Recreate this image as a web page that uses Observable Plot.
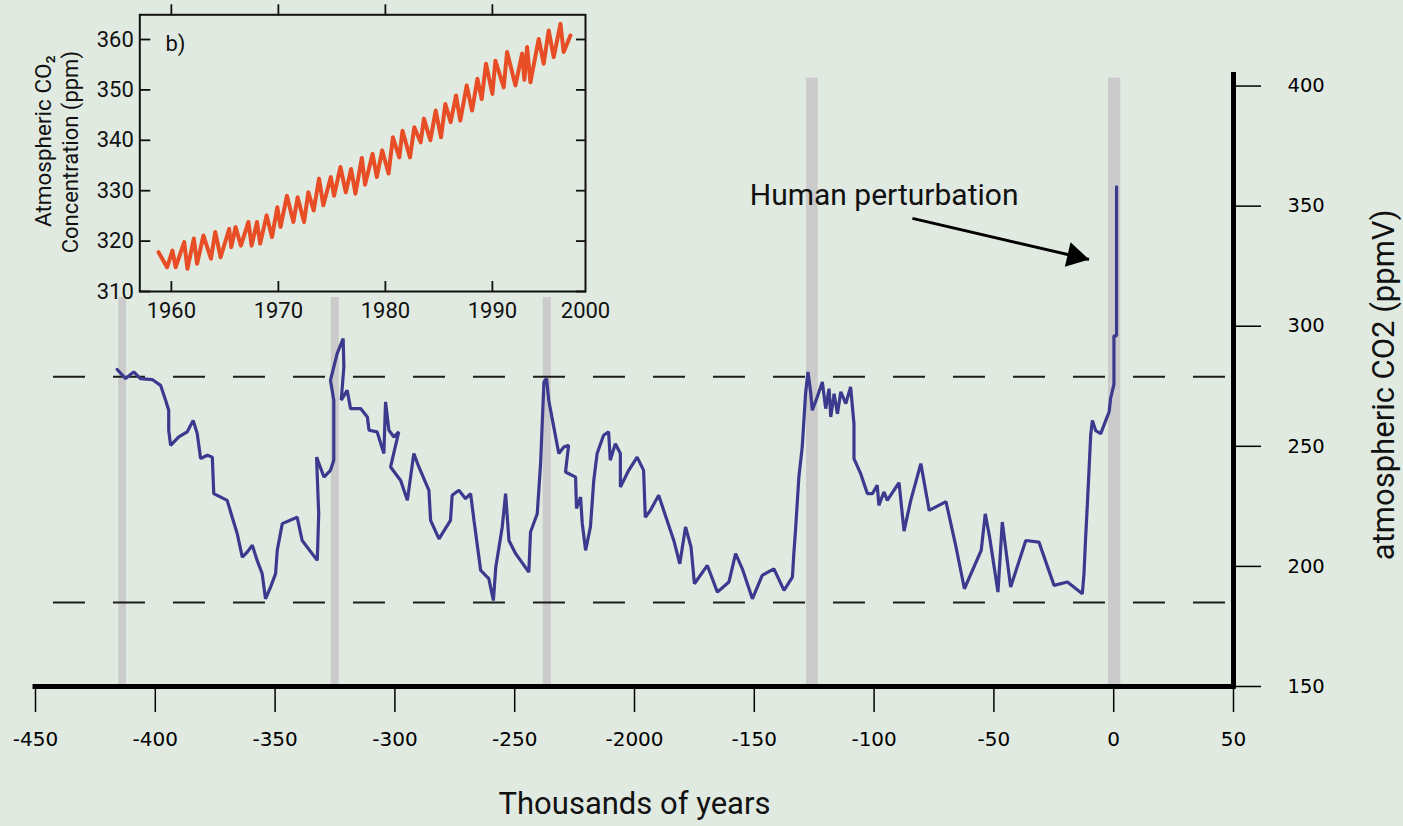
<!DOCTYPE html>
<html>
<head>
<meta charset="utf-8">
<script src="https://cdn.jsdelivr.net/npm/d3@7"></script>
<script src="https://cdn.jsdelivr.net/npm/@observablehq/plot@0.6"></script>
<style>
  html, body { margin: 0; padding: 0; background: #e0eae1; overflow: hidden; }
  #wrap { position: relative; width: 1403px; height: 826px; }
  #main { position: absolute; left: 0; top: 0; }
  #insetCover { position: absolute; left: 0; top: 0; width: 600px; height: 297px; background: #e0eae1; }
  #inset { position: absolute; left: 0; top: 0; }
  svg { overflow: visible; }
</style>
</head>
<body>
<div id="wrap">
  <div id="main"></div>
  <div id="insetCover"></div>
  <div id="inset"></div>
</div>
<script>
// ---------------- Main chart data (Vostok record, thousands of years vs ppmV) ----------------
const vostokAge = [
  -415.9, -412.4, -409.0, -406.2, -401.3, -397.8, -395.7, -394.4, -394.4, -393.6,
  -390.2, -386.7, -384.2, -382.5, -381.1, -378.3, -376.2, -375.6, -370.0, -367.9,
  -365.8, -363.7, -361.6, -359.5, -357.5, -355.4, -354.0, -351.9, -349.8, -349.1,
  -347.0, -340.8, -338.7, -332.4, -331.8, -332.7, -329.6, -326.9, -325.5, -325.5,
  -326.9, -324.1, -321.6, -321.3, -322.4, -319.9, -318.5, -314.3, -311.5, -310.8,
  -307.4, -304.6, -303.9, -302.5, -300.4, -298.4, -301.8, -297.6, -294.8, -292.1,
  -290.0, -285.8, -285.1, -281.6, -276.8, -276.1, -273.3, -270.5, -268.4, -267.0,
  -264.2, -260.8, -258.9, -257.9, -255.2, -253.8, -252.4, -249.6, -244.1, -243.4,
  -240.6, -239.2, -237.8, -236.7, -235.8, -233.7, -231.6, -229.5, -227.5, -228.8,
  -224.6, -224.2, -222.5, -221.8, -220.4, -218.4, -217.0, -215.6, -212.9, -210.8,
  -210.1, -208.0, -205.9, -205.9, -202.4, -198.9, -196.2, -195.5, -193.4, -189.9,
  -187.8, -183.6, -181.1, -178.7, -176.4, -175.0, -169.6, -165.4, -160.6, -157.8,
  -155.0, -150.8, -146.7, -141.8, -137.6, -134.1, -133.5, -132.8, -131.4, -130.0,
  -129.3, -128.6, -127.6, -126.5, -125.8, -123.7, -121.6, -120.2, -118.8, -118.1,
  -116.7, -115.3, -113.9, -111.8, -109.8, -108.4, -108.4, -105.6, -102.8, -100.7,
  -98.7, -98.0, -95.9, -94.5, -89.6, -87.5, -84.7, -80.5, -77.0, -70.0,
  -65.8, -62.3, -55.3, -53.6, -51.8, -48.3, -46.5, -43.0, -36.7, -31.2,
  -24.9, -19.3, -13.1, -12.4, -11.7, -11.0, -10.3, -9.6, -8.9, -7.5,
  -5.4, -3.3, -1.9, -1.3, 0.1, 0.1, 1.2, 1.2
];
const vostokCO2 = [
  282, 278.2, 281, 278.2, 277.8, 275.4, 269.2, 265, 256.7, 250.4,
  253.9, 256, 260.8, 255.3, 244.9, 246.3, 245.5, 230.3, 227.5, 220.5,
  213.6, 203.9, 206, 208.8, 202.5, 197, 186.5, 191.4, 197, 206.7,
  217.8, 220.5, 210.8, 202.5, 221.9, 245.5, 237.2, 240, 244.2, 269.2,
  277.5, 288.6, 294.9, 283.1, 269.2, 273.3, 265.7, 265.7, 262.2, 256.7,
  256, 247, 268.5, 256.7, 253.9, 256, 241.4, 235.8, 227.5, 247,
  241.4, 231.7, 219.2, 211.5, 219.2, 229.6, 231.7, 228.2, 230.3, 219.2,
  198.3, 194.9, 185.8, 199.7, 216.4, 230.3, 210.8, 205.3, 197.6, 214.3,
  221.9, 242.8, 276.8, 278.2, 269.2, 258.1, 247, 249.7, 250.4, 239.3,
  237.2, 224.1, 228.9, 217.8, 206.7, 216.4, 235.8, 247, 254.6, 256,
  244.2, 251.1, 247, 233.1, 240, 245.5, 240, 220.5, 223.3, 229.6,
  223.3, 210.8, 201.1, 216.4, 208, 192.8, 200.4, 189.3, 193.5, 205.3,
  199, 186.5, 196.3, 199, 190, 195.5, 205.3, 215, 237.2, 249.7,
  260.8, 271.9, 281, 272.7, 265, 270.6, 276.8, 265.7, 274, 262.2,
  271.9, 263.6, 272.7, 267.8, 274.7, 259.4, 244.9, 238.6, 230.3, 230.3,
  233.8, 225.4, 231, 227.5, 234.9, 214.7, 227.5, 242.8, 223.3, 227,
  208, 190.7, 206.7, 221.9, 212.2, 189.3, 218.5, 191.4, 210.8, 210.1,
  192.1, 193.5, 188.6, 196.9, 212.2, 225.8, 240, 254.7, 260.8, 256.5,
  255.3, 260.8, 264.4, 270, 275.8, 296, 296, 358
];

const xTicks = [-450, -400, -350, -300, -250, -200, -150, -100, -50, 0, 50];
const xTickLabels = ["-450", "-400", "-350", "-300", "-250", "-2000", "-150", "-100", "-50", "0", "50"];
const yTicks = [150, 200, 250, 300, 350, 400];
const xDomain = [-450, 50];
const yDomain = [150, 404.6];

const referenceLevels = [279, 185];
const referenceSpan = [-442.5, 47.5];

const bandStart = [-415.2, -326.6, -238.1, -128.2, -2.2];
const bandEnd = [-412.0, -323.2, -234.7, -123.3, 3.0];
const bandTop = 403.3;

const annotationText = ["Human perturbation"];
const annotationX = [-151.9];
const annotationY = [354.4];
const arrowTail = [-84.0, 344.9];
const arrowHead = [-10.3, 327.8];

const xTitle = "Thousands of years";
const yTitle = "atmospheric CO2 (ppmV)";

// ---------------- Inset data (Mauna Loa record) ----------------
const maunaYear = [
  1958.8, 1959.6, 1960.1, 1960.4, 1961.2, 1961.5, 1962.1, 1962.4, 1963.0, 1963.7,
  1964.1, 1964.6, 1965.4, 1965.6, 1966.0, 1966.5, 1967.2, 1967.5, 1968.0, 1968.3,
  1968.9, 1969.4, 1969.9, 1970.2, 1970.8, 1971.4, 1971.8, 1972.4, 1972.8, 1973.3,
  1973.8, 1974.2, 1974.9, 1975.2, 1975.8, 1976.3, 1976.8, 1977.2, 1977.8, 1978.1,
  1978.8, 1979.2, 1979.7, 1980.3, 1980.7, 1981.3, 1981.6, 1982.3, 1982.7, 1983.3,
  1983.6, 1984.2, 1984.7, 1985.2, 1985.6, 1986.1, 1986.6, 1987.0, 1987.6, 1988.1,
  1988.6, 1989.0, 1989.4, 1990.0, 1990.28, 1991.06, 1991.37, 1992.15, 1992.78, 1992.99,
  1993.24, 1993.55, 1994.33, 1994.79, 1995.26, 1995.73, 1996.36, 1996.66, 1997.29
];
const maunaPPM = [
  317.8, 314.8, 318.1, 314.8, 319.8, 314.5, 320.5, 315.5, 321.1, 316.5,
  321.8, 316.8, 322.4, 318.8, 322.8, 319.1, 323.8, 319.1, 323.8, 319.5,
  325.1, 320.8, 326.7, 322.8, 329.0, 323.8, 328.7, 323.8, 329.7, 326.1,
  332.4, 327.1, 332.7, 329.0, 334.7, 329.7, 334.3, 329.4, 336.5, 331.2,
  337.3, 332.7, 338.0, 333.4, 340.6, 336.6, 341.9, 336.6, 342.6, 339.6,
  344.3, 340.0, 345.9, 340.6, 347.2, 343.6, 348.9, 343.9, 350.9, 345.9,
  352.2, 348.2, 355.2, 349.2, 355.8, 350.5, 357.5, 350.9, 357.2, 352.0,
  358.5, 351.5, 360.1, 355.2, 361.8, 356.5, 363.1, 357.5, 360.8
];
const insetXTicks = [1960, 1970, 1980, 1990];
const insetXTickLabels = ["1960", "1970", "1980", "1990"];
const insetEndLabel = ["2000"];
const insetYTicks = [310, 320, 330, 340, 350, 360];
const insetXDomain = [1957.05, 1998.7];
const insetYDomain = [310, 364.9];
const insetTag = ["b)"];
const insetTagPos = [1959.45, 359.1];
const insetYTitle = ["Atmospheric CO\u2082", "Concentration (ppm)"];

// ---------------- Build ----------------
const TEXT_FONT = "Roboto, 'Open Sans', sans-serif";
const TICK_FONT = "'DejaVu Sans', sans-serif";

const vostok = vostokAge.map((a, i) => ({age: a, co2: vostokCO2[i]}));
const bands = bandStart.map((s, i) => ({x1: s, x2: bandEnd[i], y1: yDomain[0], y2: bandTop}));
const annotations = annotationText.map((t, i) => ({text: t, x: annotationX[i], y: annotationY[i]}));
const arrows = [{x1: arrowTail[0], y1: arrowTail[1], x2: arrowHead[0], y2: arrowHead[1]}];
const xLabel = new Map(xTicks.map((t, i) => [t, xTickLabels[i]]));

const main = Plot.plot({
  width: 1403,
  height: 826,
  marginLeft: 35,
  marginRight: 170,
  marginTop: 74.5,
  marginBottom: 140,
  x: {domain: xDomain},
  y: {domain: yDomain},
  style: {background: "transparent", fontFamily: TEXT_FONT, color: "#000", overflow: "visible"},
  marks: [
    Plot.rect(bands, {x1: "x1", x2: "x2", y1: "y1", y2: "y2", fill: "#cbcbcb"}),
    Plot.ruleY(referenceLevels, {x1: referenceSpan[0], x2: referenceSpan[1], stroke: "#1c1c1c", strokeWidth: 2, strokeDasharray: "32 28"}),
    Plot.line(vostok, {x: "age", y: "co2", stroke: "#3b3a8e", strokeWidth: 3.2, strokeLinejoin: "miter"}),
    Plot.ruleY([yDomain[0]], {stroke: "#000", strokeWidth: 5, strokeLinecap: "square"}),
    Plot.ruleX([xDomain[1]], {stroke: "#000", strokeWidth: 5, strokeLinecap: "square"}),
    Plot.axisX({ticks: xTicks, tickFormat: d => xLabel.get(d), tickSize: 26, tickPadding: 19, fontSize: 20, fontFamily: TICK_FONT, strokeWidth: 1.5, label: null}),
    Plot.axisY({anchor: "right", ticks: yTicks, tickFormat: d => String(d), tickSize: 27, tickPadding: 27, fontSize: 19.5, fontFamily: TICK_FONT, strokeWidth: 1.5, label: null}),
    Plot.link(arrows, {x1: "x1", y1: "y1", x2: "x2", y2: "y2", stroke: "#000", strokeWidth: 3}),
    Plot.dot(arrows, {x: "x2", y: "y2", symbol: "triangle", r: 9.4, fill: "#000", stroke: "none", rotate: 103, dx: -14.2, dy: -3.3}),
    Plot.text(annotations, {x: "x", y: "y", text: "text", textAnchor: "start", fontSize: 30, fill: "#111"}),
    Plot.text([xTitle], {text: d => d, frameAnchor: "bottom", textAnchor: "middle", dy: 127, fontSize: 31, fill: "#111"}),
    Plot.text([yTitle], {text: d => d, frameAnchor: "right", textAnchor: "middle", rotate: -90, dx: 151, dy: 4, fontSize: 31, fill: "#111"})
  ]
});
document.getElementById("main").appendChild(main);

const mauna = maunaYear.map((y, i) => ({year: y, ppm: maunaPPM[i]}));
const insetXLabel = new Map(insetXTicks.map((t, i) => [t, insetXTickLabels[i]]));

const inset = Plot.plot({
  width: 600,
  height: 325,
  marginLeft: 139.3,
  marginRight: 15,
  marginTop: 14.3,
  marginBottom: 34,
  x: {domain: insetXDomain},
  y: {domain: insetYDomain},
  style: {background: "transparent", fontFamily: TEXT_FONT, color: "#111", overflow: "visible"},
  marks: [
    Plot.line(mauna, {x: "year", y: "ppm", stroke: "#e84e26", strokeWidth: 4}),
    Plot.frame({stroke: "#111", strokeWidth: 2}),
    Plot.axisY({ticks: insetYTicks, tickFormat: d => String(d), tickSize: -11, tickPadding: 17, fontSize: 22, strokeWidth: 1.8, label: null}),
    Plot.axisY({anchor: "right", ticks: insetYTicks, tickFormat: () => "", tickSize: -10, strokeWidth: 1.8, label: null}),
    Plot.axisX({ticks: insetXTicks, tickFormat: d => insetXLabel.get(d), tickSize: -10, tickPadding: 21, fontSize: 22, strokeWidth: 1.8, label: null}),
    Plot.axisX({anchor: "top", ticks: insetXTicks, tickFormat: () => "", tickSize: 11, strokeWidth: 1.8, label: null}),
    Plot.text(insetEndLabel, {text: d => d, frameAnchor: "bottom-right", textAnchor: "middle", lineAnchor: "top", dy: 11, fontSize: 22}),
    Plot.text(insetTag, {text: d => d, x: insetTagPos[0], y: insetTagPos[1], textAnchor: "start", fontSize: 22}),
    Plot.text([insetYTitle[0]], {text: d => d, frameAnchor: "left", textAnchor: "middle", rotate: -90, dx: -96, dy: -12, fontSize: 22.5}),
    Plot.text([insetYTitle[1]], {text: d => d, frameAnchor: "left", textAnchor: "middle", rotate: -90, dx: -69, dy: -1, fontSize: 22})
  ]
});
document.getElementById("inset").appendChild(inset);
</script>
</body>
</html>
